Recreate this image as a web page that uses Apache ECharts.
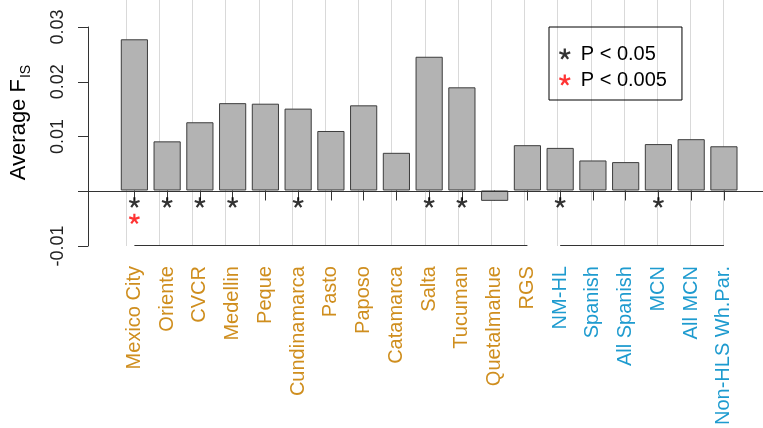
<!DOCTYPE html>
<html><head><meta charset="utf-8">
<script src="https://cdn.jsdelivr.net/npm/echarts@6/dist/echarts.min.js"></script>
<style>html,body{margin:0;padding:0;background:#fff}#c{width:763px;height:428px}</style>
</head><body><div id="c"></div>
<script>
// ---- data ----
const categories = ['Mexico City','Oriente','CVCR','Medellin','Peque','Cundinamarca','Pasto','Paposo','Catamarca','Salta','Tucuman','Quetalmahue','RGS','NM-HL','Spanish','All Spanish','MCN','All MCN','Non-HLS Wh.Par.'];
const fisValues = [0.0277,0.0090,0.0125,0.0160,0.0159,0.0150,0.0109,0.0156,0.0069,0.0245,0.0189,-0.0019,0.0083,0.0078,0.0055,0.0052,0.0085,0.0094,0.0081];
const groupOf = ['A','A','A','A','A','A','A','A','A','A','A','A','A','B','B','B','B','B','B'];
const sigP05 = ['Mexico City','Oriente','CVCR','Medellin','Cundinamarca','Salta','Tucuman','NM-HL','MCN'];
const sigP005 = ['Mexico City'];
const legendLabels = ['P < 0.05','P < 0.005'];
const yAxisName = 'Average F';
const yAxisSub = 'IS';

// ---- styles / layout ----
const groupColors = {A:'#CF8E1E', B:'#1E9BCF'};
const FONT = 'Liberation Sans, Arial, sans-serif';
const AX = '#333333';
const W = 763, GL = 109.4, GR = 22.7;
const BAND = (W - GL - GR) / categories.length;

function asteriskPath(n){
  const c=50, L=50, h=10, r=h/Math.sin(Math.PI/n);
  const pts=[];
  for(let k=0;k<n;k++){
    const t=-Math.PI/2+k*2*Math.PI/n;
    const dx=Math.cos(t), dy=Math.sin(t), px=-Math.sin(t), py=Math.cos(t);
    pts.push([c+L*dx-h*px, c+L*dy-h*py]);
    pts.push([c+L*dx+h*px, c+L*dy+h*py]);
    const ti=t+Math.PI/n;
    pts.push([c+r*Math.cos(ti), c+r*Math.sin(ti)]);
  }
  return 'path://M'+pts.map(p=>p[0].toFixed(2)+','+p[1].toFixed(2)).join('L')+'Z';
}
const STAR = asteriskPath(5);

// group segments of the category axis
const segments = [];
groupOf.forEach((g,i)=>{
  if(i===0 || groupOf[i-1]!==g) segments.push({g, first:categories[i], last:categories[i]});
  else segments[segments.length-1].last = categories[i];
});

const Y_MIN = -0.01, Y_TOP = 0.0349;

const chart = echarts.init(document.getElementById('c'), null, {renderer:'canvas'});
chart.setOption({
  animation:false,
  backgroundColor:'#fff',
  textStyle:{fontFamily:FONT},
  grid:[
    {left:GL, right:GR, top:0, bottom:182},
    {left:88, right:0, top:27, bottom:182},
    {left:GL+BAND/2, right:GR+BAND/2, top:0, bottom:182}
  ],
  legend:{
    orient:'vertical', left:549, top:27,
    borderColor:'#000', borderWidth:1, padding:[17,15,10,10],
    itemWidth:22, itemHeight:11, itemGap:6,
    textStyle:{fontSize:20, color:'#000', lineHeight:20, fontFamily:FONT},
    data: legendLabels.map(n=>({name:n, icon:STAR}))
  },
  xAxis:[
    {type:'category', gridIndex:0, data:categories,
     axisLine:{show:false},
     axisTick:{show:true, alignWithLabel:true, interval:0, length:10, lineStyle:{color:AX}},
     axisLabel:{interval:0, rotate:90, fontSize:20, margin:21, fontFamily:FONT,
       color:(v,i)=>groupColors[groupOf[i]]},
     splitLine:{show:false}},
    {type:'value', gridIndex:1, min:0, max:1, show:false},
    {type:'category', gridIndex:2, data:categories, boundaryGap:false,
     axisLine:{show:false}, axisTick:{show:false}, axisLabel:{show:false},
     splitLine:{show:true, interval:0, lineStyle:{color:'#d9d9d9', width:1}}}
  ],
  yAxis:[
    {type:'value', gridIndex:0, min:Y_MIN, max:Y_TOP,
     axisLine:{show:false}, axisTick:{show:false}, axisLabel:{show:false}, splitLine:{show:false},
     name:'{a|'+yAxisName+'}{b|'+yAxisSub+'}', nameLocation:'middle', nameRotate:90, nameGap:88,
     nameTextStyle:{color:'#000', rich:{
       a:{fontSize:22, fontFamily:FONT, color:'#000'},
       b:{fontSize:14, fontFamily:FONT, color:'#000', verticalAlign:'bottom', padding:[0,0,-3,1]}
     }}},
    {type:'value', gridIndex:1, min:-0.01, max:0.03, interval:0.01,
     axisLine:{show:true, lineStyle:{color:AX}},
     axisTick:{show:true, length:10, lineStyle:{color:AX}},
     axisLabel:{rotate:90, fontSize:18, margin:21, color:'#222', fontFamily:FONT,
       formatter:v=>Math.abs(v)<1e-9?'':v.toFixed(2)},
     splitLine:{show:false}},
    {type:'value', gridIndex:2, min:0, max:1, show:false}
  ],
  series:[
    {type:'bar', name:'FIS', xAxisIndex:0, yAxisIndex:0, data:fisValues, barWidth:'83%', z:6,
     itemStyle:{color:'#b3b3b3', borderColor:'#3d3d3d', borderWidth:1}},
    {type:'line', name:'axisSeg', xAxisIndex:0, yAxisIndex:0, data:[], silent:true,
     markLine:{silent:true, z:7, symbol:['none','none'], animation:false,
       label:{show:false}, lineStyle:{color:AX, width:1, type:'solid'},
       data:segments.map(s=>[{coord:[s.first,Y_MIN]},{coord:[s.last,Y_MIN]}])}},
    {type:'line', name:'zero', xAxisIndex:1, yAxisIndex:1, data:[], silent:true,
     markLine:{silent:true, z:7, symbol:['none','none'], animation:false,
       label:{show:false}, lineStyle:{color:AX, width:1, type:'solid'},
       data:[{yAxis:0}]}},
    {type:'scatter', name:legendLabels[0], xAxisIndex:0, yAxisIndex:0, z:8,
     symbol:STAR, symbolSize:11, symbolKeepAspect:true, itemStyle:{color:'#000'},
     data:sigP05.map(c=>[c,-0.0022])},
    {type:'scatter', name:legendLabels[1], xAxisIndex:0, yAxisIndex:0, z:8,
     symbol:STAR, symbolSize:11, symbolKeepAspect:true, itemStyle:{color:'#ff0000'},
     data:sigP005.map(c=>[c,-0.0052])}
  ]
});
</script></body></html>
